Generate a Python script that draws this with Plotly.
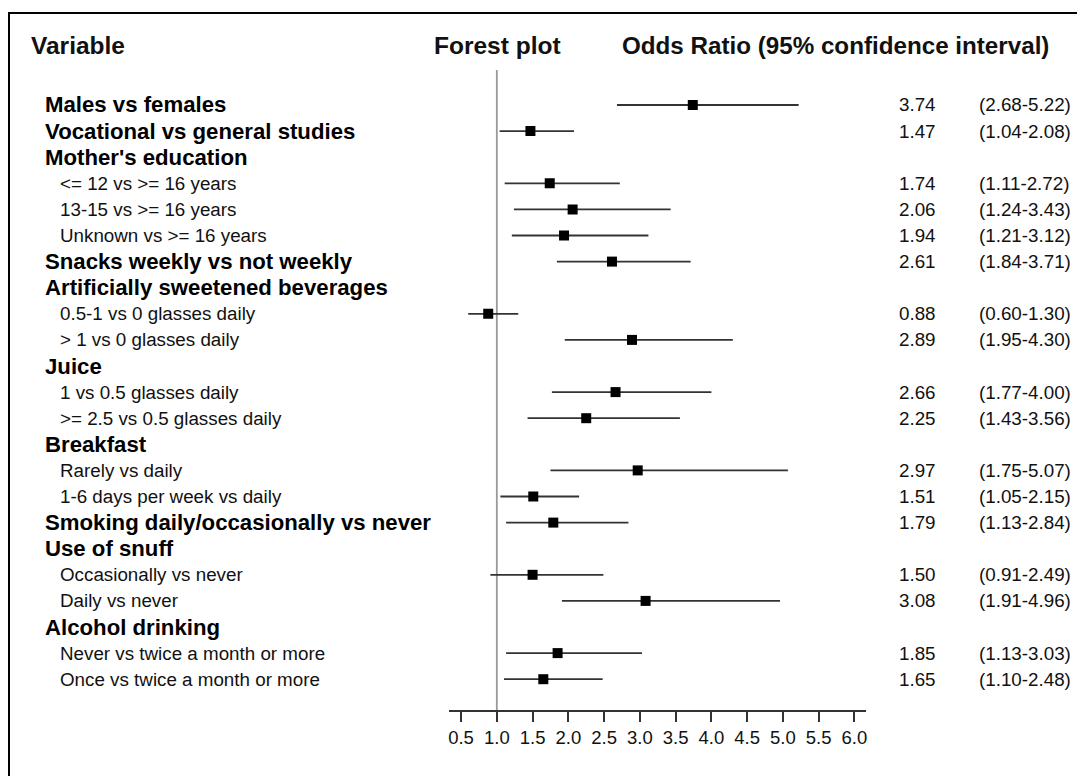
import plotly.graph_objects as go

# ---- data ----
labels = [
    "Males vs females",
    "Vocational vs general studies",
    "Mother's education",
    "<= 12 vs >= 16 years",
    "13-15 vs >= 16 years",
    "Unknown vs >= 16 years",
    "Snacks weekly vs not weekly",
    "Artificially sweetened beverages",
    "0.5-1 vs 0 glasses daily",
    "> 1 vs 0 glasses daily",
    "Juice",
    "1 vs 0.5 glasses daily",
    ">= 2.5 vs 0.5 glasses daily",
    "Breakfast",
    "Rarely vs daily",
    "1-6 days per week vs daily",
    "Smoking daily/occasionally vs never",
    "Use of snuff",
    "Occasionally vs never",
    "Daily vs never",
    "Alcohol drinking",
    "Never vs twice a month or more",
    "Once vs twice a month or more",
]
is_heading = [1, 1, 1, 0, 0, 0, 1, 1, 0, 0, 1, 0, 0, 1, 0, 0, 1, 1, 0, 0, 1, 0, 0]
odds_ratio = [3.74, 1.47, None, 1.74, 2.06, 1.94, 2.61, None, 0.88, 2.89, None, 2.66, 2.25,
              None, 2.97, 1.51, 1.79, None, 1.50, 3.08, None, 1.85, 1.65]
ci_low = [2.68, 1.04, None, 1.11, 1.24, 1.21, 1.84, None, 0.60, 1.95, None, 1.77, 1.43,
          None, 1.75, 1.05, 1.13, None, 0.91, 1.91, None, 1.13, 1.10]
ci_high = [5.22, 2.08, None, 2.72, 3.43, 3.12, 3.71, None, 1.30, 4.30, None, 4.00, 3.56,
           None, 5.07, 2.15, 2.84, None, 2.49, 4.96, None, 3.03, 2.48]
tick_vals = [0.5, 1.0, 1.5, 2.0, 2.5, 3.0, 3.5, 4.0, 4.5, 5.0, 5.5, 6.0]
headers = ["Variable", "Forest plot", "Odds Ratio (95% confidence interval)"]

# ---- layout helpers (pixel -> paper) ----
OFF = 8
W, H = 1085 - OFF * 2, 784 - OFF * 2
def px(x):
    return (x - OFF) / W
def py(y):
    return 1 - (y - OFF) / H

FONT = "Liberation Sans, Arial, sans-serif"
rows_y = [-i for i in range(len(labels))]

def esc(s):
    return s.replace("<", "&lt;").replace(">", "&gt;")

idx = [i for i, v in enumerate(odds_ratio) if v is not None]
xs = [odds_ratio[i] for i in idx]
ys = [rows_y[i] for i in idx]
err_plus = [ci_high[i] - odds_ratio[i] for i in idx]
err_minus = [odds_ratio[i] - ci_low[i] for i in idx]

fig = go.Figure()
fig.add_trace(go.Scatter(
    x=xs, y=ys, mode="markers",
    marker=dict(symbol="square", size=10, color="black"),
    error_x=dict(type="data", symmetric=False, array=err_plus, arrayminus=err_minus,
                 width=0, thickness=1.8, color="#333333"),
    showlegend=False, hoverinfo="x",
))

annotations = []
for i, lab in enumerate(labels):
    if is_heading[i]:
        annotations.append(dict(text="<b>" + esc(lab) + "</b>", x=px(42), y=rows_y[i],
                                xref="paper", yref="y", xanchor="left", yanchor="middle",
                                showarrow=False,
                                font=dict(family=FONT, size=22.2, color="black")))
    else:
        annotations.append(dict(text=esc(lab), x=px(57.5), y=rows_y[i], xref="paper", yref="y",
                                xanchor="left", yanchor="middle", showarrow=False,
                                font=dict(family=FONT, size=18.8, color="#111111")))
    if odds_ratio[i] is not None:
        annotations.append(dict(text=f"{odds_ratio[i]:.2f}", x=px(939), y=rows_y[i],
                                xref="paper", yref="y", xanchor="right", yanchor="middle",
                                showarrow=False, font=dict(family=FONT, size=18.8, color="#111111")))
        annotations.append(dict(text=f"({ci_low[i]:.2f}-{ci_high[i]:.2f})", x=px(977.5), y=rows_y[i],
                                xref="paper", yref="y", xanchor="left", yanchor="middle",
                                showarrow=False, font=dict(family=FONT, size=18.8, color="#111111")))

# headers
annotations.append(dict(text="<b>" + headers[0] + "</b>", x=px(28.5), y=py(46), xref="paper", yref="paper",
                        xanchor="left", yanchor="middle", showarrow=False,
                        font=dict(family=FONT, size=24.5, color="#111111")))
annotations.append(dict(text="<b>" + headers[1] + "</b>", x=px(497.5), y=py(46), xref="paper", yref="paper",
                        xanchor="center", yanchor="middle", showarrow=False,
                        font=dict(family=FONT, size=24.5, color="#111111")))
annotations.append(dict(text="<b>" + headers[2] + "</b>", x=px(1052), y=py(46), xref="paper", yref="paper",
                        xanchor="right", yanchor="middle", showarrow=False,
                        font=dict(family=FONT, size=24.2, color="#111111")))

shapes = [
    # reference line at OR = 1
    dict(type="line", xref="x", yref="paper", x0=1, x1=1, y0=py(710), y1=py(70),
         line=dict(color="#999999", width=1.8), layer="below"),
    # outer frame (top + left visible)
    dict(type="rect", xref="paper", yref="paper", x0=px(8), x1=px(1200), y0=py(13), y1=py(900),
         line=dict(color="black", width=2)),
]

fig.update_layout(
    width=W, height=H,
    margin=dict(l=0, r=0, t=0, b=0),
    paper_bgcolor="white", plot_bgcolor="white",
    showlegend=False,
    annotations=annotations,
    shapes=shapes,
    xaxis=dict(
        domain=[px(449), px(866.7)],
        range=[0.334, 6.163],
        tickvals=tick_vals,
        ticktext=[f"{v:.1f}" for v in tick_vals],
        ticks="outside", ticklen=10, tickwidth=1.8, tickcolor="#333333",
        showline=True, linecolor="#333333", linewidth=1.8,
        showgrid=False, zeroline=False,
        tickfont=dict(family=FONT, size=18.5, color="#111111"),
        fixedrange=True,
    ),
    yaxis=dict(
        domain=[py(710), py(70)],
        range=[-23.18, 1.341],
        visible=False, showgrid=False, zeroline=False, fixedrange=True,
    ),
)

fig.write_html("out.html")
